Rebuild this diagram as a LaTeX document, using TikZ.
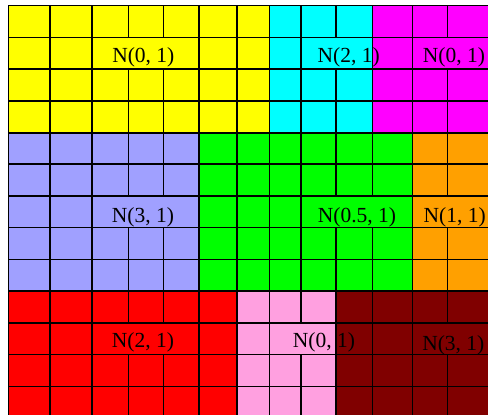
\documentclass[tikz,border=0pt]{standalone}
\usepackage{fontspec}
\setmainfont{Liberation Serif}
\usepackage{tikz}
\usepackage{xcolor}
\definecolor{CellYellow}{HTML}{FFFF00}
\definecolor{CellCyan}{HTML}{00FFFF}
\definecolor{CellMagenta}{HTML}{FF00FF}
\definecolor{CellLilac}{HTML}{A0A0FF}
\definecolor{CellGreen}{HTML}{00FF00}
\definecolor{CellOrange}{HTML}{FFA000}
\definecolor{CellRed}{HTML}{FF0000}
\definecolor{CellPink}{HTML}{FFA0E0}
\definecolor{CellMaroon}{HTML}{800000}

\begin{document}
\begin{tikzpicture}[x=1pt,y=-1pt,
  gridline/.style={line width=1.6pt,line cap=rect},
  blocklabel/.style={font=\fontsize{21.5}{24}\selectfont,inner sep=0pt,anchor=base}]
  \useasboundingbox (0,0) rectangle (488,415);
  % blocks of cells
  \fill[CellYellow]  (8.3,5.3)   rectangle (269.3,132.7);
  \fill[CellCyan]    (269.3,5.3) rectangle (372.3,132.7);
  \fill[CellMagenta] (372.3,5.3) rectangle (495,132.7);
  \fill[CellLilac]   (8.3,132.7)   rectangle (198.7,291);
  \fill[CellGreen]   (198.7,132.7) rectangle (412.3,291);
  \fill[CellOrange]  (412.3,132.7) rectangle (495,291);
  \fill[CellRed]     (8.3,291)   rectangle (236.7,420);
  \fill[CellPink]    (236.7,291) rectangle (336,420);
  \fill[CellMaroon]  (336,291)   rectangle (495,420);
  % cell grid
  \foreach \x in {8.3,50,91.7,128.3,163.3,198.7,236.7,269.3,301,336,372.3,412.3,447.3}
    \draw[gridline] (\x,5.3) -- (\x,420);
  \foreach \y in {5.3,37.3,69,101,132.7,164,196,227.3,259.3,291,322.7,354.3,386.3}
    \draw[gridline] (8.3,\y) -- (495,\y);
  % merged cells behind the labels
  \foreach \xa/\xb/\ya/\yb/\c in {
      91.7/198.7/37.3/69/CellYellow, 301/372.3/37.3/69/CellCyan,
      372.3/412.3/37.3/69/CellMagenta, 412.3/500/37.3/69/CellMagenta,
      91.7/198.7/196/227.3/CellLilac, 301/412.3/196/227.3/CellGreen,
      412.3/500/196/227.3/CellOrange,
      91.7/198.7/322.7/354.3/CellRed, 269.3/336/322.7/354.3/CellPink,
      336/372.3/322.7/354.3/CellMaroon, 412.3/500/322.7/354.3/CellMaroon}
    \fill[\c] (\xa+0.8,\ya+0.8) rectangle (\xb-0.8,\yb-0.8);
  % labels
  \node[blocklabel] (lblyellow)  at (143.3,62)   {N(0, 1)};
  \node[blocklabel] (lblcyan)    at (348.7,62)   {N(2, 1)};
  \node[blocklabel] (lblmagenta) at (454,62)     {N(0, 1)};
  \node[blocklabel] (lbllilac)   at (143,222.5)  {N(3, 1)};
  \node[blocklabel] (lblgreen)   at (357,222.5)  {N(0.5, 1)};
  \node[blocklabel] (lblorange)  at (454.7,222.5) {N(1, 1)};
  \node[blocklabel] (lblred)     at (143,347.5)  {N(2, 1)};
  \node[blocklabel] (lblpink)    at (324,347.5)  {N(0, 1)};
  \node[blocklabel] (lblmaroon)  at (453.3,350)  {N(3, 1)};
\end{tikzpicture}
\end{document}
